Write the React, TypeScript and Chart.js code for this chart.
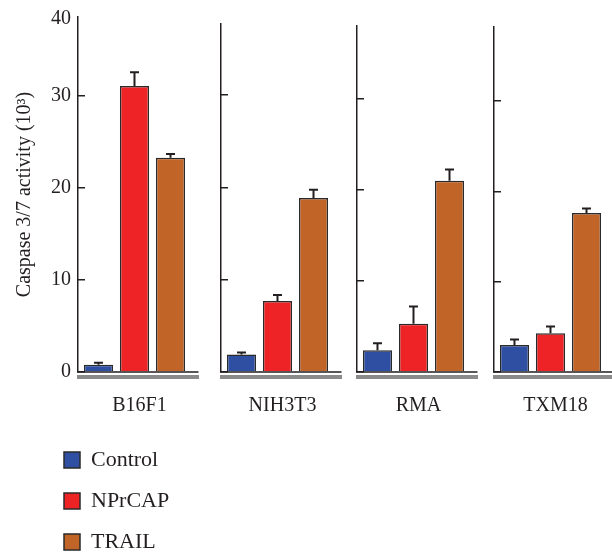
import React, { useEffect, useRef } from 'react';
import { Chart, registerables } from 'chart.js';

Chart.register(...registerables);

// ---- data ----
const cellLines = ['B16F1', 'NIH3T3', 'RMA', 'TXM18'];
const seriesNames = ['Control', 'NPrCAP', 'TRAIL'];
const controlValues = [0.8, 1.9, 2.4, 3.0];
const nprcapValues = [31.1, 7.7, 5.3, 4.3];
const trailValues = [23.3, 18.85, 21.0, 17.6];
const controlErrors = [0.2, 0.2, 0.75, 0.6];
const nprcapErrors = [1.5, 0.65, 1.9, 0.75];
const trailErrors = [0.4, 0.9, 1.25, 0.5];
const yTicks = [0, 10, 20, 30];
const yTopLabel = '40';
const panelYMax = [38.6, 37.7, 38.0, 38.2];
const yTitle = 'Caspase 3/7 activity (10³)';

const seriesValues = [controlValues, nprcapValues, trailValues];
const seriesErrors = [controlErrors, nprcapErrors, trailErrors];
const seriesColors = ['#2E4FA2', '#EE2326', '#C16428'];

// ---- layout / style ----
const INK = '#231F20';
const FONT_FAMILY = "'Liberation Serif', 'DejaVu Serif', serif";
const FONT = { family: FONT_FAMILY, size: 20 };
const LEGEND_FONT = { family: FONT_FAMILY, size: 22 };
const PANEL_LEFT = [78, 221, 357, 494];
const PANEL_TOP = [17, 24, 26, 27];
const AREA_W = 113;
const AREA_BOTTOM = 372;
const PANEL_H = 440;
const RIGHT_PAD = 14;

const errorBarPlugin = {
  id: 'errorBars',
  afterDatasetsDraw(chart: any) {
    const ctx = chart.ctx;
    const y = chart.scales.y;
    const panel = chart.options.panelIndex;
    chart.data.datasets.forEach((ds: any, di: number) => {
      const meta = chart.getDatasetMeta(di);
      meta.data.forEach((bar: any, i: number) => {
        const v = ds.data[i];
        const e = seriesErrors[di][panel];
        const top = y.getPixelForValue(v + e);
        ctx.save();
        ctx.strokeStyle = INK;
        ctx.lineWidth = 2;
        ctx.beginPath();
        ctx.moveTo(bar.x, bar.y);
        ctx.lineTo(bar.x, top);
        ctx.moveTo(bar.x - 4.5, top);
        ctx.lineTo(bar.x + 4.5, top);
        ctx.stroke();
        ctx.restore();
      });
    });
  },
};

const baselinePlugin = {
  id: 'baseline',
  afterDraw(chart: any) {
    const ctx = chart.ctx;
    const { left, right, bottom } = chart.chartArea;
    ctx.save();
    ctx.fillStyle = INK;
    ctx.fillRect(left - 0.5, bottom - 0.75, right + 8 - left, 1.5);
    ctx.fillStyle = '#8A8A8A';
    ctx.fillRect(left - 1, bottom + 3, right + 9 - left, 4);
    ctx.restore();
  },
};

const topLabelPlugin = {
  id: 'topLabel',
  afterDraw(chart: any) {
    if (chart.options.panelIndex !== 0) return;
    const ctx = chart.ctx;
    const y = chart.scales.y;
    ctx.save();
    ctx.fillStyle = INK;
    ctx.font = `${FONT.size}px ${FONT_FAMILY}`;
    ctx.textAlign = 'right';
    ctx.textBaseline = 'middle';
    ctx.fillText(yTopLabel, y.right - 7, chart.chartArea.top + 2);
    ctx.restore();
  },
};

function Panel({ index }: { index: number }) {
  const ref = useRef<HTMLCanvasElement>(null);
  const first = index === 0;
  const yW = first ? 78 : 12;
  const width = yW + AREA_W + RIGHT_PAD;
  const left = PANEL_LEFT[index] - yW;

  useEffect(() => {
    const chart = new Chart(ref.current as HTMLCanvasElement, {
      type: 'bar',
      data: {
        labels: [cellLines[index]],
        datasets: seriesNames.map((name, s) => ({
          label: name,
          data: [seriesValues[s][index]],
          backgroundColor: seriesColors[s],
          borderColor: '#2a2a2a',
          borderWidth: 1.5,
          categoryPercentage: 0.956,
          barPercentage: 0.81,
        })),
      },
      options: {
        panelIndex: index,
        animation: false,
        responsive: false,
        maintainAspectRatio: false,
        events: [],
        layout: { padding: { top: PANEL_TOP[index], left: 0, right: RIGHT_PAD, bottom: 0 } },
        plugins: { legend: { display: false }, tooltip: { enabled: false } },
        scales: {
          x: {
            type: 'category',
            grid: { display: false, drawTicks: false },
            border: { display: false },
            ticks: { font: FONT, color: INK, padding: 22, labelOffset: 5, maxRotation: 0 },
            afterFit: (s: any) => { s.height = PANEL_H - AREA_BOTTOM; },
          },
          y: {
            min: 0,
            max: panelYMax[index],
            afterBuildTicks: (s: any) => { s.ticks = yTicks.map((v) => ({ value: v })); },
            grid: { drawOnChartArea: false, drawTicks: true, tickLength: -7, color: INK, lineWidth: 1.5 },
            border: { display: true, color: INK, width: 1.5 },
            ticks: { display: first, font: FONT, color: INK, padding: 14 },
            title: { display: first, text: yTitle, font: FONT, color: INK, padding: { top: 13, bottom: 0 } },
            afterFit: (s: any) => {
              s.width = yW;
              s.paddingTop = 0;
              s.paddingBottom = 0;
            },
          },
        },
      } as any,
      plugins: [errorBarPlugin, baselinePlugin, topLabelPlugin],
    });
    return () => chart.destroy();
  }, [index]);

  return (
    <canvas
      ref={ref}
      width={width}
      height={PANEL_H}
      style={{ position: 'absolute', left, top: 0, width, height: PANEL_H }}
    />
  );
}

function Legend() {
  const ref = useRef<HTMLCanvasElement>(null);
  useEffect(() => {
    const chart = new Chart(ref.current as HTMLCanvasElement, {
      type: 'bar',
      data: {
        labels: [],
        datasets: seriesNames.map((name, s) => ({
          label: name,
          data: [],
          backgroundColor: seriesColors[s],
          borderColor: '#2a2a2a',
          borderWidth: 1.5,
        })),
      },
      options: {
        animation: false,
        responsive: false,
        maintainAspectRatio: false,
        events: [],
        layout: { padding: 0 },
        scales: { x: { display: false }, y: { display: false } },
        plugins: {
          tooltip: { enabled: false },
          legend: {
            position: 'left',
            align: 'start',
            labels: { boxWidth: 16, boxHeight: 16, padding: 19, font: LEGEND_FONT, color: INK },
          },
        },
      } as any,
    });
    return () => chart.destroy();
  }, []);
  return (
    <canvas
      ref={ref}
      width={300}
      height={180}
      style={{ position: 'absolute', left: 45, top: 430, width: 300, height: 180 }}
    />
  );
}

export default function App() {
  return (
    <div
      style={{
        position: 'absolute',
        left: 0,
        top: 0,
        width: 612,
        height: 552,
        overflow: 'hidden',
        background: '#ffffff',
      }}
    >
      {cellLines.map((_, i) => (
        <Panel key={i} index={i} />
      ))}
      <Legend />
    </div>
  );
}
